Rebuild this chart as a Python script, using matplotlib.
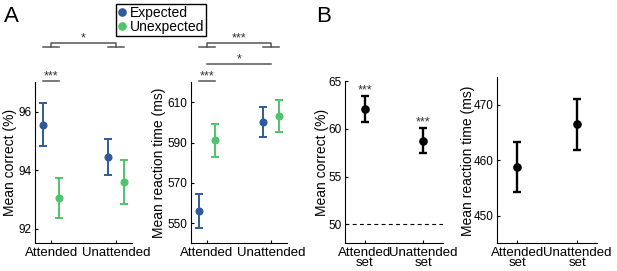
import matplotlib
matplotlib.use("Agg")
import matplotlib.pyplot as plt
from matplotlib.lines import Line2D
import matplotlib.transforms as mtransforms

plt.rcParams['font.family'] = ['Liberation Sans', 'DejaVu Sans']

# ---------------- data ----------------
conditions_A = ["Attended", "Unattended"]
series_labels = ["Expected", "Unexpected"]
acc_expected = [95.55, 94.45]
acc_expected_err = [0.73, 0.62]
acc_unexpected = [93.05, 93.6]
acc_unexpected_err = [0.68, 0.74]
rt_expected = [556.2, 600.2]
rt_expected_err = [8.5, 7.6]
rt_unexpected = [591.2, 603.2]
rt_unexpected_err = [8.1, 8.0]

conditions_B = ["Attended\nset", "Unattended\nset"]
accB = [62.1, 58.77]
accB_err = [1.35, 1.33]
rtB = [458.8, 466.5]
rtB_err = [4.5, 4.55]
chance_level = 50

blue = "#2f5a9a"
green = "#4fc46c"
sig_color = "#555555"

W, H = 617, 271
fig = plt.figure(figsize=(W / 100, H / 100), dpi=100)


def ax_px(x0, x1, ytop, ybot):
    return fig.add_axes([x0 / W, 1 - ybot / H, (x1 - x0) / W, (ybot - ytop) / H])


def style(ax):
    for s in ["top", "right"]:
        ax.spines[s].set_visible(False)
    for s in ["left", "bottom"]:
        ax.spines[s].set_linewidth(0.8)
    ax.tick_params(direction="in", length=2.5, width=0.8, pad=2.5)
    ax.tick_params(axis="y", labelsize=8.5)
    ax.tick_params(axis="x", labelsize=9.5)


def set_ylab(ax, text, cx_px, left_px, width_px):
    ax.set_ylabel(text, fontsize=10, va="center")
    ax.yaxis.set_label_coords((cx_px - left_px) / width_px, 0.5)


off = 0.125
x = [1, 2]

# ---------------- Panel A left ----------------
axA1 = ax_px(35, 132, 82.4, 243.3)
style(axA1)
axA1.errorbar([v - off for v in x], acc_expected, yerr=acc_expected_err, fmt="o",
              color=blue, ms=4.8, elinewidth=1.4, capsize=3, capthick=1.4)
axA1.errorbar([v + off for v in x], acc_unexpected, yerr=acc_unexpected_err, fmt="o",
              color=green, ms=4.8, elinewidth=1.4, capsize=3, capthick=1.4)
axA1.set_xlim(0.75, 2.25)
axA1.set_ylim(91.5, 97)
axA1.set_yticks([92, 94, 96])
axA1.set_xticks(x)
axA1.set_xticklabels(conditions_A)
set_ylab(axA1, "Mean correct (%)", 10, 35, 97)

# ---------------- Panel A right ----------------
axA2 = ax_px(190.7, 287.3, 82.2, 243.3)
style(axA2)
axA2.errorbar([v - off for v in x], rt_expected, yerr=rt_expected_err, fmt="o",
              color=blue, ms=4.8, elinewidth=1.4, capsize=3, capthick=1.4)
axA2.errorbar([v + off for v in x], rt_unexpected, yerr=rt_unexpected_err, fmt="o",
              color=green, ms=4.8, elinewidth=1.4, capsize=3, capthick=1.4)
axA2.set_xlim(0.75, 2.25)
axA2.set_ylim(540, 620)
axA2.set_yticks([550, 570, 590, 610])
axA2.set_xticks(x)
axA2.set_xticklabels(conditions_A)
set_ylab(axA2, "Mean reaction time (ms)", 159.3, 190.7, 96.6)


def fy(ypx):
    return 1 - ypx / H


def sig_line(ax, x0, x1, ypx, label):
    tr = mtransforms.blended_transform_factory(ax.transData, fig.transFigure)
    ax.plot([x0, x1], [fy(ypx), fy(ypx)], color=sig_color, lw=1.1, transform=tr, clip_on=False)
    ax.text((x0 + x1) / 2, fy(ypx - 1.5), label, transform=tr, ha="center", va="baseline",
            fontsize=9, color="#333333")


def bracket(ax, ypx_top, ypx_bot, label):
    tr = mtransforms.blended_transform_factory(ax.transData, fig.transFigure)
    ax.plot([1, 1, 2, 2], [fy(ypx_bot), fy(ypx_top), fy(ypx_top), fy(ypx_bot)],
            color=sig_color, lw=1.1, transform=tr, clip_on=False)
    for c in x:
        ax.plot([c - off, c + off], [fy(ypx_bot), fy(ypx_bot)], color=sig_color, lw=1.1,
                transform=tr, clip_on=False)
    ax.text(1.5, fy(ypx_top - 1.5), label, transform=tr, ha="center", va="baseline",
            fontsize=9, color="#333333")


bracket(axA1, 43.3, 47.3, "*")
sig_line(axA1, 1 - off, 1 + off, 81, "***")
bracket(axA2, 43.3, 47.3, "***")
sig_line(axA2, 1, 2, 64.3, "*")
sig_line(axA2, 1 - off, 1 + off, 81, "***")

# legend
handles = [Line2D([], [], ls="none", marker="o", color=blue, ms=5.2),
           Line2D([], [], ls="none", marker="o", color=green, ms=5.2)]
leg = fig.legend(handles, series_labels, loc="upper left",
                 bbox_to_anchor=(116.3 / W, 1 - 4 / H), borderaxespad=0,
                 fontsize=10, frameon=True, fancybox=False, edgecolor="black",
                 framealpha=1, borderpad=0.12, handlelength=0.6, handletextpad=0.25,
                 labelspacing=0.05)
leg.get_frame().set_linewidth(1.0)

# ---------------- Panel B left ----------------
axB1 = ax_px(345, 443.3, 81, 243.4)
style(axB1)
axB1.errorbar(x, accB, yerr=accB_err, fmt="o", color="black", ms=5.2,
              elinewidth=1.7, capsize=3, capthick=1.7)
axB1.axhline(chance_level, color="black", lw=0.8, ls=(0, (3.5, 3)))
for xi, m, e in zip(x, accB, accB_err):
    axB1.annotate("***", (xi, m + e), xytext=(0, 1.5), textcoords="offset points",
                  ha="center", va="baseline", fontsize=9, color="#333333")
axB1.set_xlim(0.66, 2.34)
axB1.set_ylim(48, 65)
axB1.set_yticks([50, 55, 60, 65])
axB1.set_xticks(x)
axB1.set_xticklabels(conditions_B, linespacing=0.8)
set_ylab(axB1, "Mean correct (%)", 321.7, 345, 98.3)

# ---------------- Panel B right ----------------
axB2 = ax_px(497.3, 596.7, 77.3, 243.4)
style(axB2)
axB2.errorbar(x, rtB, yerr=rtB_err, fmt="o", color="black", ms=5.2,
              elinewidth=1.7, capsize=3, capthick=1.7)
axB2.set_xlim(0.667, 2.324)
axB2.set_ylim(445, 475)
axB2.set_yticks([450, 460, 470])
axB2.set_xticks(x)
axB2.set_xticklabels(conditions_B, linespacing=0.8)
set_ylab(axB2, "Mean reaction time (ms)", 468.3, 497.3, 99.4)

# panel letters
fig.text(4 / W, fy(22.5), "A", fontsize=16, ha="left", va="baseline")
fig.text(316 / W, fy(22.5), "B", fontsize=16, ha="left", va="baseline")

fig.savefig("out.png", dpi=100)
